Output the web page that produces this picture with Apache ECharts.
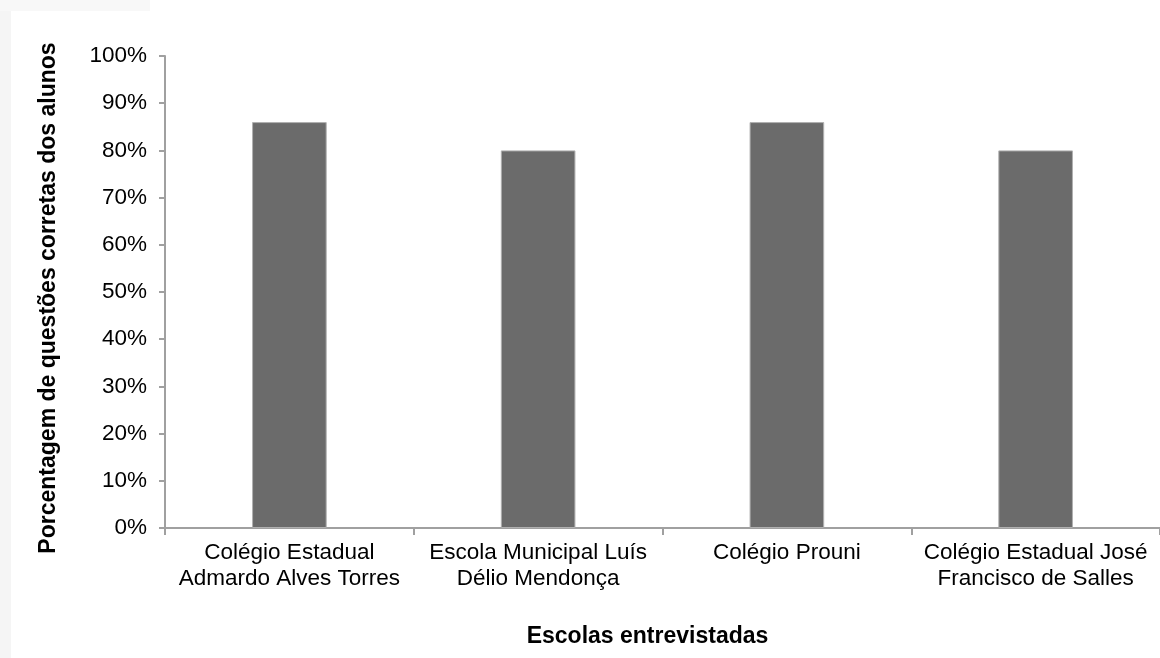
<!DOCTYPE html>
<html>
<head>
<meta charset="utf-8">
<script src="https://cdn.jsdelivr.net/npm/echarts@6/dist/echarts.min.js"></script>
<style>
html,body{margin:0;padding:0;background:#fff;}
#chart{width:1160px;height:658px;}
</style>
</head>
<body>
<div id="chart"></div>
<script>
const categories = [
  'Colégio Estadual\nAdmardo Alves Torres',
  'Escola Municipal Luís\nDélio Mendonça',
  'Colégio Prouni',
  'Colégio Estadual José\nFrancisco de Salles'
];
const values = [86, 80, 86, 80];
const yTicks = [0, 10, 20, 30, 40, 50, 60, 70, 80, 90, 100];
const yAxisTitle = 'Porcentagem de questões corretas dos alunos';
const xAxisTitle = 'Escolas entrevistadas';

const chart = echarts.init(document.getElementById('chart'));
const font = '"Liberation Sans", Arial, sans-serif';
chart.setOption({
  backgroundColor: '#fff',
  animation: false,
  graphic: [
    {type: 'rect', left: 0, top: 0, shape: {width: 11, height: 658}, style: {fill: '#f5f5f5'}, silent: true},
    {type: 'rect', left: 0, top: 0, shape: {width: 150, height: 11}, style: {fill: '#f8f8f8'}, silent: true}
  ],
  grid: {left: 165, right: -5, top: 56, bottom: 130, containLabel: false},
  xAxis: {
    type: 'category',
    data: categories,
    name: xAxisTitle,
    nameLocation: 'middle',
    nameGap: 97,
    nameTextStyle: {fontFamily: font, fontSize: 23, fontWeight: 'bold', color: '#000', padding: [0, 30, 0, 0]},
    axisLine: {lineStyle: {color: '#a0a0a0', width: 2}},
    axisTick: {show: true, length: 7, alignWithLabel: false, lineStyle: {color: '#a0a0a0', width: 2}},
    axisLabel: {fontFamily: font, fontSize: 22.5, color: '#000', margin: 12, lineHeight: 26, interval: 0}
  },
  yAxis: {
    type: 'value',
    min: yTicks[0],
    max: yTicks[yTicks.length - 1],
    interval: 10,
    name: yAxisTitle,
    nameLocation: 'middle',
    nameGap: 105,
    nameTextStyle: {fontFamily: font, fontSize: 23, fontWeight: 'bold', color: '#000', padding: [0, 12, 0, 0]},
    axisLine: {show: true, lineStyle: {color: '#a0a0a0', width: 2}},
    axisTick: {show: true, length: 6, lineStyle: {color: '#a0a0a0', width: 2}},
    splitLine: {show: false},
    axisLabel: {fontFamily: font, fontSize: 22.5, color: '#000', margin: 18, formatter: '{value}%'}
  },
  series: [{
    type: 'bar',
    data: values,
    barWidth: '30%',
    itemStyle: {color: '#6b6b6b', borderColor: '#b0b0b0', borderWidth: 1}
  }]
});
</script>
</body>
</html>
